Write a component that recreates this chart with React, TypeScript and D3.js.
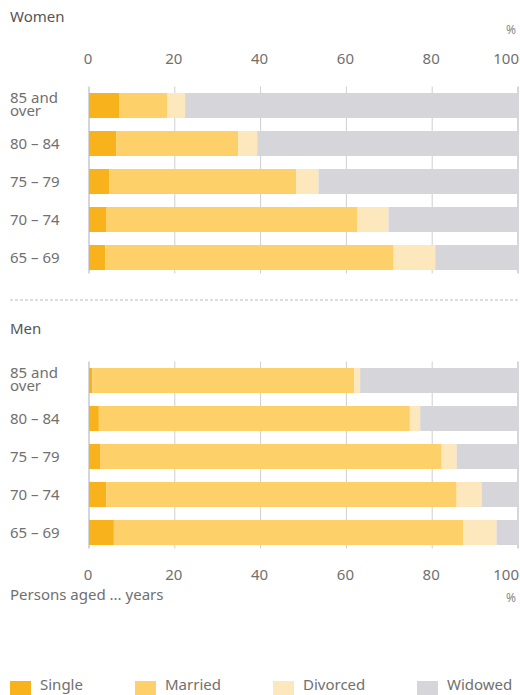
import React from "react";
import * as d3 from "d3";

const ageGroups = ["85 and over", "80 – 84", "75 – 79", "70 – 74", "65 – 69"];
const statusKeys = ["Single", "Married", "Divorced", "Widowed"];
const xTicks = [0, 20, 40, 60, 80, 100];

const womenSingle = [7.0, 6.4, 4.7, 4.1, 3.8];
const womenMarried = [11.3, 28.4, 43.6, 58.5, 67.2];
const womenDivorced = [4.1, 4.4, 5.2, 7.2, 9.7];
const womenWidowed = [77.6, 60.8, 46.5, 30.2, 19.3];

const menSingle = [0.8, 2.3, 2.7, 4.0, 5.8];
const menMarried = [61.0, 72.5, 79.5, 81.7, 81.4];
const menDivorced = [1.4, 2.4, 3.5, 5.8, 7.8];
const menWidowed = [36.8, 22.8, 14.3, 8.5, 5.0];

const colors = ["#f7b21c", "#fdd06a", "#fde7bd", "#d6d6da"];
const FONT = "'Noto Sans', 'DejaVu Sans', sans-serif";
const TEXT = "#707070";
const FS = 15;

function buildRows(s: number[], m: number[], d: number[], w: number[]) {
  return ageGroups.map((age, i) => ({
    age,
    Single: s[i],
    Married: m[i],
    Divorced: d[i],
    Widowed: w[i],
  }));
}

const x = d3.scaleLinear().domain([0, 100]).range([89, 518]);
const stack = d3.stack<any>().keys(statusKeys);

function Panel({ rows, top }: { rows: any[]; top: number }) {
  const y = d3
    .scaleBand<string>()
    .domain(ageGroups)
    .range([top, top + 190])
    .paddingInner(0.342)
    .paddingOuter(0.171);
  const series = stack(rows);
  return (
    <g>
      {xTicks.map((t) => (
        <line
          key={t}
          x1={x(t)}
          x2={x(t)}
          y1={top}
          y2={top + 187}
          stroke={t === 0 || t === 100 ? "#a9adb8" : "#cfcfcf"}
          strokeWidth={1}
        />
      ))}
      {series.map((s, si) =>
        s.map((d, i) => (
          <rect
            key={si + "-" + i}
            x={x(d[0])}
            y={y(ageGroups[i])}
            width={x(d[1]) - x(d[0])}
            height={y.bandwidth()}
            fill={colors[si]}
          />
        ))
      )}
      {ageGroups.map((a) => {
        const cy = (y(a) as number) + y.bandwidth() / 2;
        if (a === "85 and over") {
          return (
            <text key={a} x={10} fill={TEXT} fontSize={FS} fontFamily={FONT}>
              <tspan x={10} y={cy - 3}>85 and</tspan>
              <tspan x={10} y={cy + 10}>over</tspan>
            </text>
          );
        }
        return (
          <text key={a} x={10} y={cy + 5.5} fill={TEXT} fontSize={FS} fontFamily={FONT}>
            {a}
          </text>
        );
      })}
    </g>
  );
}

function TickLabels({ yBase }: { yBase: number }) {
  return (
    <g>
      {xTicks.map((t) => (
        <text
          key={t}
          x={t === 100 ? 519 : x(t) - 1}
          y={yBase}
          textAnchor={t === 100 ? "end" : "middle"}
          fill={TEXT}
          fontSize={FS}
          fontFamily={FONT}
        >
          {t}
        </text>
      ))}
    </g>
  );
}

export default function App() {
  const women = buildRows(womenSingle, womenMarried, womenDivorced, womenWidowed);
  const men = buildRows(menSingle, menMarried, menDivorced, menWidowed);
  const legendX = [10, 135, 273, 417];
  return (
    <svg
      width={520}
      height={695}
      style={{ position: "absolute", left: 0, top: 0, background: "#fff" }}
    >
      <text x={10} y={22} fill="#555" fontSize={15} fontFamily={FONT}>Women</text>
      <text x={516} y={34} textAnchor="end" fill="#888" fontSize={12} fontFamily={FONT}>%</text>
      <TickLabels yBase={64} />
      <Panel rows={women} top={86.5} />

      <line x1={10} x2={520} y1={300} y2={300} stroke="#bbb" strokeDasharray="3,2" />

      <text x={10} y={334} fill="#555" fontSize={15} fontFamily={FONT}>Men</text>
      <Panel rows={men} top={361.5} />
      <TickLabels yBase={580} />
      <text x={10} y={600} fill={TEXT} fontSize={FS} fontFamily={FONT}>Persons aged ... years</text>
      <text x={516} y={602} textAnchor="end" fill="#888" fontSize={12} fontFamily={FONT}>%</text>

      {statusKeys.map((k, i) => (
        <g key={k}>
          <rect x={legendX[i]} y={681} width={21} height={21} fill={colors[i]} />
          <text x={legendX[i] + 30} y={690} fill={TEXT} fontSize={FS} fontFamily={FONT}>
            {k}
          </text>
        </g>
      ))}
    </svg>
  );
}
